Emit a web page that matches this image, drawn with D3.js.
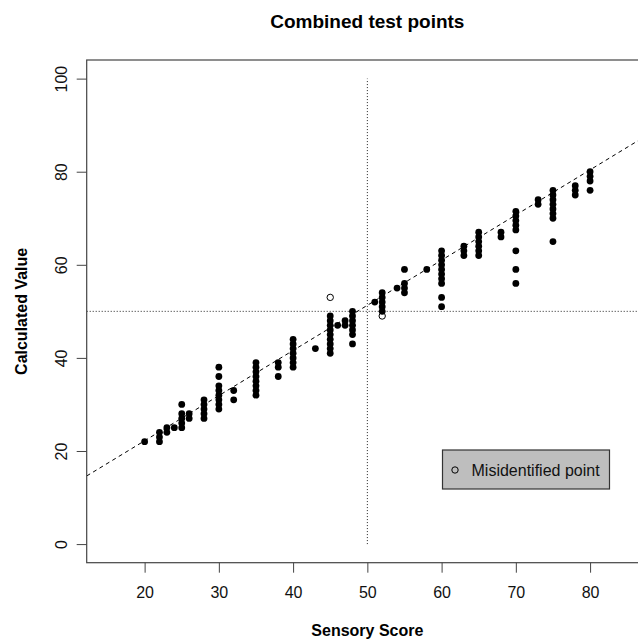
<!DOCTYPE html>
<html lang="en">
  <head>
    <meta charset="utf-8">
    <title>Combined test points</title>
    <script type="text/javascript" src="https://d3js.org/d3.v7.min.js"></script>
    <style>
      body { margin: 0; background: white; }
      svg { display: block; font-family: "Liberation Sans", Arial, Helvetica, sans-serif; }
    </style>
  </head>
  <body>
    <script type="text/javascript">

    // Sensory score levels and the calculated values measured at each level
    var sensoryScores = [20, 22, 23, 24, 25, 26, 28, 30, 32, 35, 38, 40, 43, 45, 46, 47, 48,
                         51, 52, 54, 55, 58, 60, 63, 65, 68, 70, 73, 75, 78, 80];
    var calculatedValues = [
      [22],
      [22, 23, 24],
      [24, 25],
      [25],
      [25, 26, 27, 28, 30],
      [27, 28],
      [27, 28, 29, 30, 31],
      [29, 30, 31, 32, 33, 34, 36, 38],
      [31, 33],
      [32, 33, 34, 35, 36, 37, 38, 39],
      [36, 38, 39],
      [38, 39, 40, 41, 42, 43, 44],
      [42],
      [41, 42, 43, 44, 45, 46, 47, 48, 49],
      [47],
      [47, 48],
      [43, 45, 46, 47, 48, 49, 50],
      [52],
      [50, 51, 52, 53, 54],
      [55],
      [54, 55, 56, 59],
      [59],
      [51, 53, 56, 57, 58, 59, 60, 61, 62, 63],
      [62, 63, 64],
      [62, 63, 64, 65, 66, 67],
      [66, 67],
      [56, 59, 63, 67.5, 68.5, 69.5, 70.5, 71.5],
      [73, 74],
      [65, 70, 71, 72, 73, 74, 75, 76],
      [75, 76, 77],
      [76, 78, 79, 80]
    ];

    // Misidentified points (open circles)
    var missScores = [45, 52];
    var missValues = [53, 49];

    // Fitted line (dashed) and the 50/50 reference lines
    var fitIntercept = 2.8;
    var fitSlope = 0.97;
    var cutoff = 50;

    var xTicks = [20, 30, 40, 50, 60, 70, 80];
    var yTicks = [0, 20, 40, 60, 80, 100];

    // Flatten into points
    var points = [];
    sensoryScores.forEach(function(s, i) {
      calculatedValues[i].forEach(function(v) {
        points.push({score: s, value: v});
      });
    });
    var missed = missScores.map(function(s, i) {
      return {score: s, value: missValues[i]};
    });

    var svgW = 638;
    var svgH = 640;
    var plotLeft = 86.7;
    var plotRight = 648;
    var plotTop = 60;
    var plotBottom = 562.7;

    var xScale = d3.scaleLinear()
                    .domain([12.2, 87.8])
                    .range([plotLeft, plotRight]);
    var yScale = d3.scaleLinear()
                    .domain([-4, 104])
                    .range([plotBottom, plotTop]);

    var svg = d3.select("body")
                .append("svg")
                  .attr("width", svgW)
                  .attr("height", svgH);

    svg.append("clipPath")
          .attr("id", "plotclip")
        .append("rect")
          .attr("x", plotLeft)
          .attr("y", plotTop)
          .attr("width", plotRight - plotLeft)
          .attr("height", plotBottom - plotTop);

    var plot = svg.append("g").attr("clip-path", "url(#plotclip)");

    // Reference lines
    plot.append("line")
          .attr("x1", xScale(cutoff))
          .attr("x2", xScale(cutoff))
          .attr("y1", yScale(0))
          .attr("y2", yScale(100))
          .attr("stroke", "#222")
          .attr("stroke-width", 1)
          .attr("stroke-dasharray", "1,2");
    plot.append("line")
          .attr("x1", xScale(12.2))
          .attr("x2", xScale(87.8))
          .attr("y1", yScale(cutoff))
          .attr("y2", yScale(cutoff))
          .attr("stroke", "#222")
          .attr("stroke-width", 1)
          .attr("stroke-dasharray", "1,2");

    // Dashed fit line
    plot.append("line")
          .attr("x1", xScale(12.2))
          .attr("x2", xScale(87.8))
          .attr("y1", yScale(fitIntercept + fitSlope * 12.2))
          .attr("y2", yScale(fitIntercept + fitSlope * 87.8))
          .attr("stroke", "black")
          .attr("stroke-width", 1)
          .attr("stroke-dasharray", "4,3.5");

    // Points
    plot.selectAll("circle.pt")
          .data(points)
          .enter()
          .append("circle")
            .attr("class", "pt")
            .attr("cx", function(d) { return xScale(d.score); })
            .attr("cy", function(d) { return yScale(d.value); })
            .attr("r", 3.4)
            .attr("fill", "black");

    plot.selectAll("circle.miss")
          .data(missed)
          .enter()
          .append("circle")
            .attr("class", "miss")
            .attr("cx", function(d) { return xScale(d.score); })
            .attr("cy", function(d) { return yScale(d.value); })
            .attr("r", 3.2)
            .attr("fill", "none")
            .attr("stroke", "black")
            .attr("stroke-width", 1);

    // Box around the plot region
    svg.append("rect")
          .attr("x", plotLeft)
          .attr("y", plotTop)
          .attr("width", plotRight - plotLeft)
          .attr("height", plotBottom - plotTop)
          .attr("fill", "none")
          .attr("stroke", "#444")
          .attr("stroke-width", 1.2);

    // Axes
    var xAxis = d3.axisBottom(xScale)
                  .tickValues(xTicks)
                  .tickSize(10)
                  .tickPadding(14);
    var gx = svg.append("g")
                  .attr("transform", "translate(0," + plotBottom + ")")
                  .call(xAxis);
    gx.select(".domain").remove();
    gx.selectAll("line").attr("stroke", "#444");
    gx.selectAll("text")
        .attr("fill", "#111")
        .style("font-family", "'Liberation Sans', Arial, sans-serif")
        .style("font-size", "16px");

    var yAxis = d3.axisLeft(yScale)
                  .tickValues(yTicks)
                  .tickSize(10);
    var gy = svg.append("g")
                  .attr("transform", "translate(" + plotLeft + ",0)")
                  .call(yAxis);
    gy.select(".domain").remove();
    gy.selectAll("line").attr("stroke", "#444");
    gy.selectAll("text")
        .attr("fill", "#111")
        .attr("x", null)
        .attr("dy", null)
        .attr("transform", "translate(-20,0) rotate(-90)")
        .style("text-anchor", "middle")
        .style("font-family", "'Liberation Sans', Arial, sans-serif")
        .style("font-size", "16px");

    // Titles
    svg.append("text")
          .attr("x", (plotLeft + plotRight) / 2)
          .attr("y", 28)
          .style("text-anchor", "middle")
          .style("font-weight", "bold")
          .style("font-size", "19px")
          .text("Combined test points");

    svg.append("text")
          .attr("x", (plotLeft + plotRight) / 2)
          .attr("y", 636)
          .style("text-anchor", "middle")
          .style("font-weight", "bold")
          .style("font-size", "16px")
          .text("Sensory Score");

    svg.append("text")
          .attr("transform", "translate(27," + (plotTop + plotBottom) / 2 + ") rotate(-90)")
          .style("text-anchor", "middle")
          .style("font-weight", "bold")
          .style("font-size", "16px")
          .text("Calculated Value");

    // Legend
    var legend = svg.append("g");
    legend.append("rect")
            .attr("x", 442.5)
            .attr("y", 450)
            .attr("width", 167)
            .attr("height", 39)
            .attr("fill", "#bebebe")
            .attr("stroke", "#333")
            .attr("stroke-width", 1.2);
    legend.append("circle")
            .attr("cx", 455)
            .attr("cy", 470)
            .attr("r", 3.2)
            .attr("fill", "none")
            .attr("stroke", "black");
    legend.append("text")
            .attr("x", 471.5)
            .attr("y", 476)
            .style("font-size", "16px")
            .attr("fill", "#111")
            .text("Misidentified point");

    </script>
  </body>
</html>
